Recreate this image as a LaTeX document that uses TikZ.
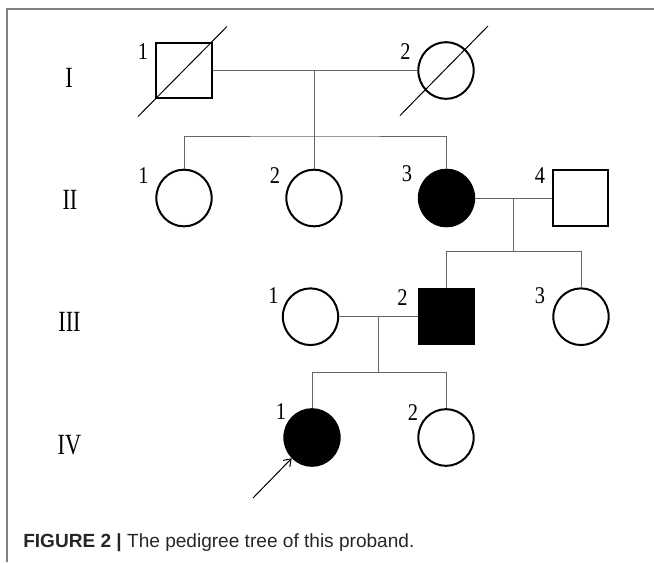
\documentclass[tikz,border=0pt]{standalone}
\usepackage{fontspec}
\newfontfamily\capfont{Liberation Sans}
\newfontfamily\tagfont{Liberation Serif}
\usetikzlibrary{shapes.geometric,calc,arrows.meta}

\newcommand{\gennum}[1]{\scalebox{0.76}[1]{#1}}
\newcommand{\tagnum}[1]{\scalebox{0.85}[1]{#1}}

\tikzset{
    female/.style={ellipse,draw,line width=1.5pt,minimum width=41.5pt,minimum height=42.5pt,inner sep=0pt},
    male/.style={rectangle,draw,line width=1.5pt,minimum size=41.5pt,inner sep=0pt},
    affected/.style={fill=black},
    num/.style={font=\tagfont\fontsize{18}{18}\selectfont,inner sep=0pt},
    gen/.style={font=\tagfont\fontsize{22}{22}\selectfont,inner sep=0pt},
    link/.style={draw=black!60,line width=0.75pt},
    dead/.style={draw=black,line width=0.75pt}
}

\begin{document}
\begin{tikzpicture}[x=0.75pt,y=-0.75pt]
    \useasboundingbox (0,0) rectangle (654,562);

    % Draw frame
    \draw[black!50,line width=1.1pt] (7,562) -- (7,9) -- (654,9);

    % Draw generation numbers
    \node[gen] (gI) at (69,78) {\gennum{I}};
    \node[gen] (gII) at (70,200) {\gennum{II}};
    \node[gen] (gIII) at (69.5,322) {\gennum{III}};
    \node[gen] (gIV) at (69.5,445.5) {\gennum{IV}};

    % Draw generation I
    \node[male] (I1) at (184,70.5) {};
    \node[female] (I2) at (446,70.5) {};
    \node[num] (nI1) at (143,52) {\tagnum{1}};
    \node[num] (nI2) at (405.5,51.5) {\tagnum{2}};
    \draw[dead] ([shift={(-46,46)}]I1.center) -- ([shift={(43,-44)}]I1.center);
    \draw[dead] ([shift={(-46,45)}]I2.center) -- ([shift={(42,-44.5)}]I2.center);

    % Draw generation II
    \node[female] (II1) at (184,198) {};
    \node[female] (II2) at (314,198) {};
    \node[female,affected] (II3) at (446.5,198) {};
    \node[male] (II4) at (580.7,198) {};
    \node[num] (nII1) at (143.5,176) {\tagnum{1}};
    \node[num] (nII2) at (275,176) {\tagnum{2}};
    \node[num] (nII3) at (407,174) {\tagnum{3}};
    \node[num] (nII4) at (540,176) {\tagnum{4}};

    % Draw generation III
    \node[female] (III1) at (310.5,316.7) {};
    \node[male,affected] (III2) at (446.5,316.7) {};
    \node[female] (III3) at (581,316.7) {};
    \node[num] (nIII1) at (273.5,296) {\tagnum{1}};
    \node[num] (nIII2) at (402.5,297.5) {\tagnum{2}};
    \node[num] (nIII3) at (540,296) {\tagnum{3}};

    % Draw generation IV
    \node[female,affected] (IV1) at (312,437.5) {};
    \node[female] (IV2) at (446,437.5) {};
    \node[num] (nIV1) at (281,411.5) {\tagnum{1}};
    \node[num] (nIV2) at (413,413) {\tagnum{2}};

    % Draw couples and children
    \draw[link] (I1.east) -- (I2.west);
    \coordinate (sI) at (314,136);
    \draw[link] (II2.north) -- (II2.north |- I1.east);
    \draw[link] (II1.north) |- (sI) -| (II3.north);

    \draw[link] (II3.east) -- (II4.west);
    \coordinate (mII) at ($(II3.east)!0.5!(II4.west)$);
    \coordinate (sII) at ($(mII)+(0,53.7)$);
    \draw[link] (mII) -- (sII);
    \draw[link] (III2.north) |- (sII) -| (III3.north);

    \draw[link] (III1.east) -- (III2.west);
    \coordinate (mIII) at ($(III1.east)!0.5!(III2.west)$);
    \coordinate (sIII) at ($(mIII)+(0,56)$);
    \draw[link] (mIII) -- (sIII);
    \draw[link] (IV1.north) |- (sIII) -| (IV2.north);

    % Draw proband arrow
    \coordinate (pb) at (253,498);
    \draw[-{Straight Barb[length=5pt,width=7pt]},line width=0.75pt] (pb) -- (IV1.south west);

    % Draw caption
    \node[anchor=base west,inner sep=0pt,font=\capfont\fontsize{14.3}{14.3}\selectfont,text=black!85] (cap) at (23,547) {\textbf{FIGURE 2 |} The pedigree tree of this proband.};
\end{tikzpicture}
\end{document}
